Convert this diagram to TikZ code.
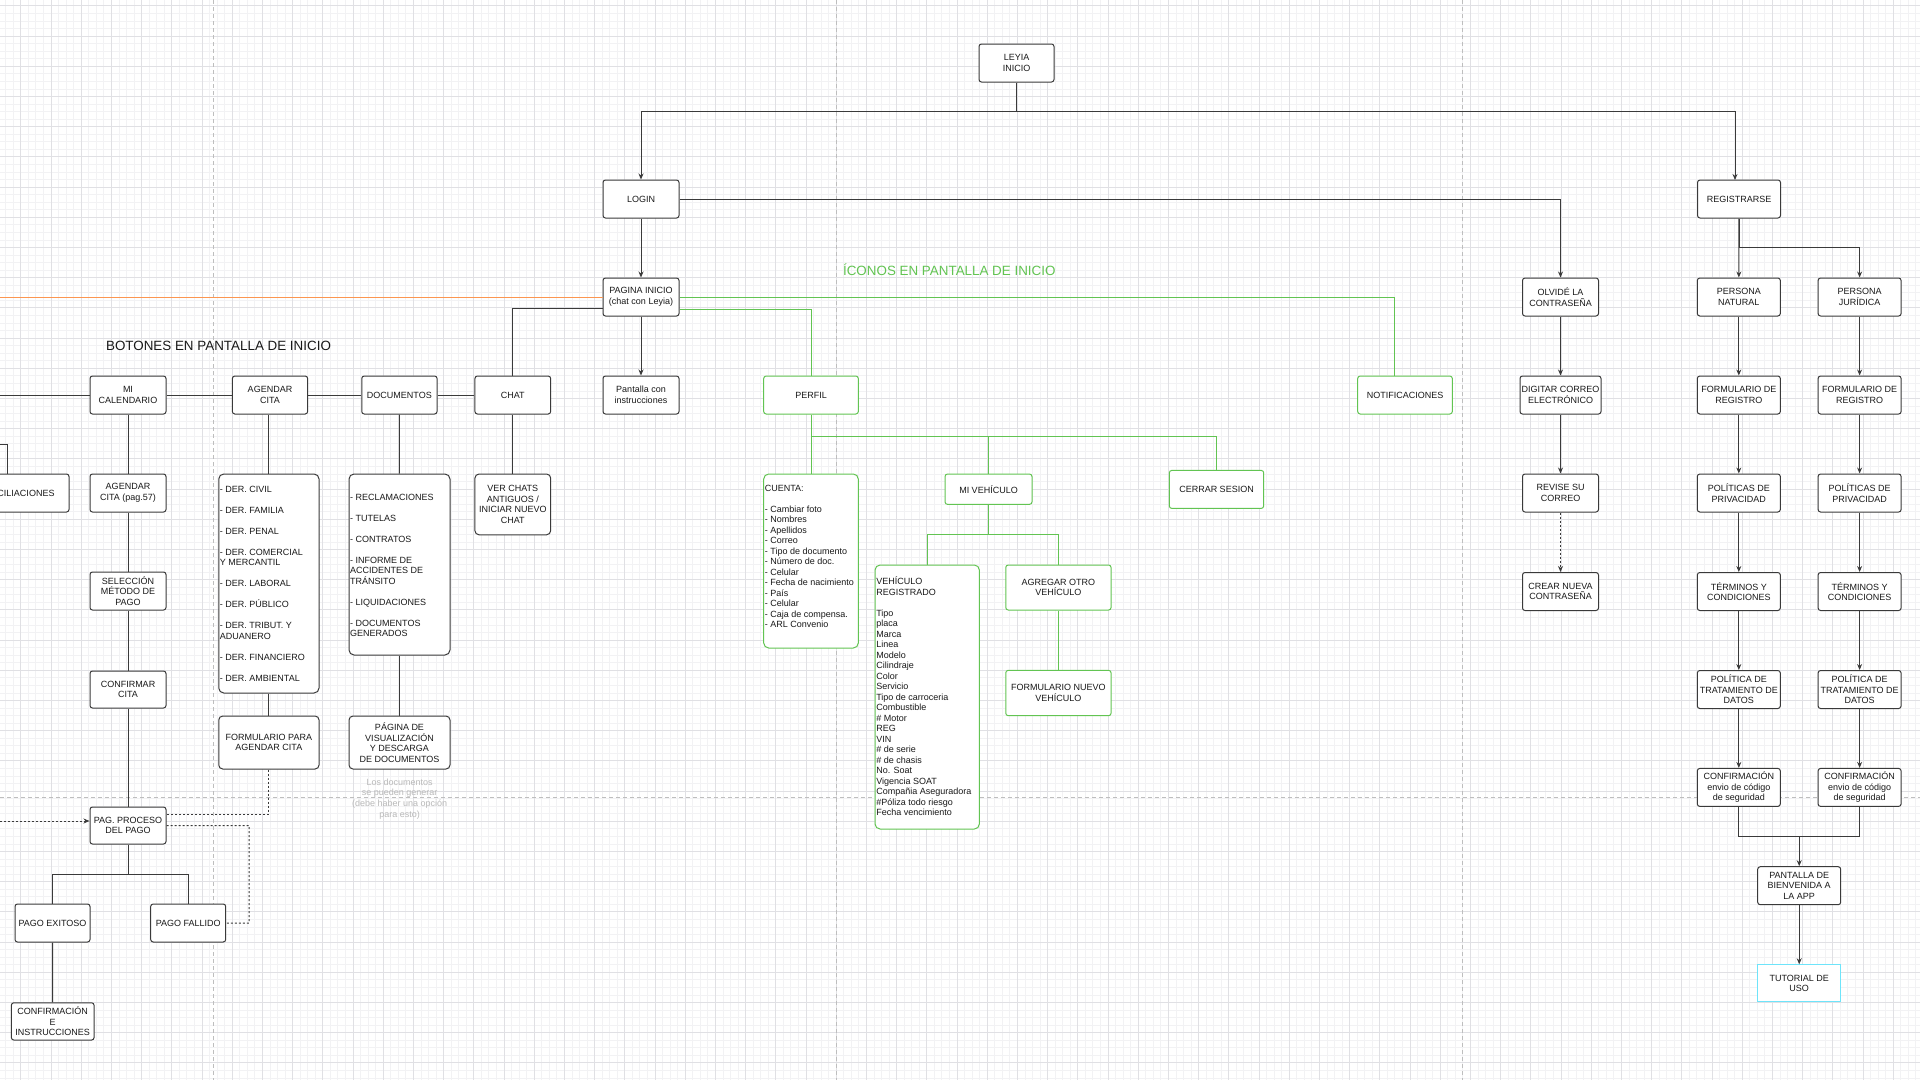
\documentclass[tikz,border=0pt]{standalone}
\usepackage{fontspec}
\setmainfont{Liberation Sans}
\usetikzlibrary{arrows.meta}
\definecolor{lc}{RGB}{58,58,58}
\definecolor{grn}{RGB}{98,196,82}
\definecolor{txt}{RGB}{25,25,25}
\definecolor{cyn}{RGB}{110,228,250}
\definecolor{org}{RGB}{252,150,80}
\definecolor{gmin}{RGB}{242,242,244}
\definecolor{gmaj}{RGB}{224,224,228}
\definecolor{pg}{RGB}{190,190,190}
\definecolor{notec}{RGB}{185,185,185}
\begin{document}
\begin{tikzpicture}[x=1pt,y=-1pt,
  every node/.style={text=txt},
  sz/.style 2 args={minimum width=#1pt,minimum height=#2pt},
  bx/.style={draw=lc,fill=white,line width=1pt,rounded corners=2.5pt,inner sep=0.5pt,align=center,font=\fontsize{9}{10.5}\selectfont},
  gbx/.style={bx,draw=grn},
  lbx/.style={bx,rounded corners=5pt},
  glbx/.style={lbx,draw=grn},
  ltx/.style={inner sep=0pt,align=left,anchor=north west,font=\fontsize{9}{10.5}\selectfont},
  cn/.style={draw=lc,line width=1pt},
  gcn/.style={draw=grn,line width=1pt},
  dcn/.style={draw=lc,line width=1pt,dash pattern=on 2pt off 2pt},
  arr/.style={-{Stealth[length=6pt,width=5pt]}},
  pgl/.style={draw=pg,line width=1pt,dash pattern=on 4pt off 3pt},
  ttl/.style={font=\fontsize{13.4}{16}\selectfont},
]
\useasboundingbox (0,0) rectangle (1920,1080);
\clip (0,0) rectangle (1920,1080);
\fill[white] (0,0) rectangle (1920,1080);
% grid
\foreach \i in {0,...,254} \draw[gmin,line width=0.7pt] ({5.6+7.55*\i},0) -- ({5.6+7.55*\i},1080);
\foreach \i in {0,...,143} \draw[gmin,line width=0.7pt] (0,{5.8+7.55*\i}) -- (1920,{5.8+7.55*\i});
\foreach \i in {0,...,63} \draw[gmaj,line width=0.8pt] ({20.7+30.2*\i},0) -- ({20.7+30.2*\i},1080);
\foreach \i in {0,...,35} \draw[gmaj,line width=0.8pt] (0,{5.8+30.2*\i}) -- (1920,{5.8+30.2*\i});
% page breaks
\draw[pgl] (213,0) -- (213,1080);
\draw[pgl] (836,0) -- (836,1080);
\draw[pgl] (1462,0) -- (1462,1080);
\draw[pgl] (0,797.5) -- (1920,797.5);

% titles
\node[ttl] (botones) at (218.5,345.7) {BOTONES EN PANTALLA DE INICIO};
\node[ttl,text=grn] (iconos) at (949.3,270) {ÍCONOS EN PANTALLA DE INICIO};

% top
\node[bx,sz={75}{38}] (leyia) at (1016.5,63) {LEYIA\\INICIO};
\node[bx,sz={76}{38}] (login) at (641,199) {LOGIN};
\node[bx,sz={83}{38}] (regis) at (1739,199) {REGISTRARSE};
\node[bx,sz={76}{38}] (pagina) at (641,297) {PAGINA INICIO\\(chat con Leyia)};
\node[bx,sz={76}{38}] (pantalla) at (641,395) {Pantalla con\\instrucciones};

% forgot password
\node[bx,sz={76}{38}] (olvide) at (1560.5,297) {OLVIDÉ LA\\CONTRASEÑA};
\node[bx,sz={81}{38}] (digitar) at (1560.5,395) {DIGITAR CORREO\\ELECTRÓNICO};
\node[bx,sz={76}{38}] (revise) at (1560.5,493) {REVISE SU\\CORREO};
\node[bx,sz={76}{38}] (crear) at (1560.5,591.5) {CREAR NUEVA\\CONTRASEÑA};

% register
\node[bx,sz={83}{38}] (natural) at (1738.8,297) {PERSONA\\NATURAL};
\node[bx,sz={83}{38}] (juridica) at (1859.6,297) {PERSONA\\JURÍDICA};
\node[bx,sz={83}{38}] (formN) at (1738.8,395) {FORMULARIO DE\\REGISTRO};
\node[bx,sz={83}{38}] (formJ) at (1859.6,395) {FORMULARIO DE\\REGISTRO};
\node[bx,sz={83}{38}] (polN) at (1738.8,493) {POLÍTICAS DE\\PRIVACIDAD};
\node[bx,sz={83}{38}] (polJ) at (1859.6,493) {POLÍTICAS DE\\PRIVACIDAD};
\node[bx,sz={83}{38}] (termN) at (1738.8,591.5) {TÉRMINOS Y\\CONDICIONES};
\node[bx,sz={83}{38}] (termJ) at (1859.6,591.5) {TÉRMINOS Y\\CONDICIONES};
\node[bx,sz={83}{38}] (tratN) at (1738.8,689.5) {POLÍTICA DE\\TRATAMIENTO DE\\DATOS};
\node[bx,sz={83}{38}] (tratJ) at (1859.6,689.5) {POLÍTICA DE\\TRATAMIENTO DE\\DATOS};
\node[bx,sz={83}{38}] (confN) at (1738.8,787.4) {CONFIRMACIÓN\\envio de código\\de seguridad};
\node[bx,sz={83}{38}] (confJ) at (1859.6,787.4) {CONFIRMACIÓN\\envio de código\\de seguridad};
\node[bx,sz={83}{38}] (bienv) at (1799.2,885.7) {PANTALLA DE\\BIENVENIDA A\\LA APP};
\node[bx,draw=cyn,rounded corners=0pt,sz={83}{37}] (tutorial) at (1799.2,983.3) {TUTORIAL DE\\USO};

% left buttons
\node[bx,sz={76}{38}] (mical) at (128,395) {MI\\CALENDARIO};
\node[bx,sz={75.3}{38}] (agendar) at (270,395) {AGENDAR\\CITA};
\node[bx,sz={75.3}{38}] (documentos) at (399.4,395) {DOCUMENTOS};
\node[bx,sz={75.7}{38}] (chat) at (512.8,395) {CHAT};
\node[bx,sz={106}{38}] (concil) at (16,493) {CONCILIACIONES};
\node[bx,sz={76}{38}] (ag57) at (128,493) {AGENDAR\\CITA (pag.57)};
\node[bx,sz={76}{38}] (selec) at (128,591) {SELECCIÓN\\MÉTODO DE\\PAGO};
\node[bx,sz={76}{37}] (confirmar) at (128,689.5) {CONFIRMAR\\CITA};
\node[bx,sz={76}{37}] (pagproc) at (128,825.5) {PAG. PROCESO\\DEL PAGO};
\node[bx,sz={75}{38}] (exitoso) at (52.5,923) {PAGO EXITOSO};
\node[bx,sz={75}{38}] (fallido) at (188.2,923) {PAGO FALLIDO};
\node[bx,sz={82.7}{37.3}] (confinst) at (52.7,1021.4) {CONFIRMACIÓN\\E\\INSTRUCCIONES};
\node[lbx,sz={100.3}{219}] (derlist) at (268.9,583.5) {};
\node[ltx] (derT) at ([xshift=1.5pt,yshift=-12.5pt]derlist.north west) {- DER. CIVIL\\[10.5pt]- DER. FAMILIA\\[10.5pt]- DER. PENAL\\[10.5pt]- DER. COMERCIAL\\Y MERCANTIL\\[10.5pt]- DER. LABORAL\\[10.5pt]- DER. PÚBLICO\\[10.5pt]- DER. TRIBUT. Y\\ADUANERO\\[10.5pt]- DER. FINANCIERO\\[10.5pt]- DER. AMBIENTAL};
\node[lbx,sz={101}{181}] (doclist) at (399.5,564.5) {};
\node[ltx] (docT) at ([xshift=1.5pt,yshift=-20.5pt]doclist.north west) {- RECLAMACIONES\\[10.5pt]- TUTELAS\\[10.5pt]- CONTRATOS\\[10.5pt]- INFORME DE\\ACCIDENTES DE\\TRÁNSITO\\[10.5pt]- LIQUIDACIONES\\[10.5pt]- DOCUMENTOS\\GENERADOS};
\node[lbx,rounded corners=4pt,sz={100.3}{53}] (formag) at (268.9,742.5) {FORMULARIO PARA\\AGENDAR CITA};
\node[lbx,rounded corners=4pt,sz={101}{53}] (pagvis) at (399.5,742.5) {PÁGINA DE\\VISUALIZACIÓN\\Y DESCARGA\\DE DOCUMENTOS};
\node[align=center,text=notec,font=\fontsize{9}{10.7}\selectfont] (nota) at (399.7,799) {Los documentos\\se pueden generar\\(debe haber una opción\\para esto)};
\node[lbx,rounded corners=4pt,sz={75.7}{60.7}] (verchats) at (512.8,504.4) {VER CHATS\\ANTIGUOS /\\INICIAR NUEVO\\CHAT};

% green
\node[gbx,sz={94.6}{38}] (perfil) at (811,395) {PERFIL};
\node[glbx,sz={94.6}{174}] (cuenta) at (811,561) {};
\node[ltx] (cuentaT) at ([xshift=1.5pt,yshift=-11.5pt]cuenta.north west) {CUENTA:\\[10.5pt]- Cambiar foto\\- Nombres\\- Apellidos\\- Correo\\- Tipo de documento\\- Número de doc.\\- Celular\\- Fecha de nacimiento\\- País\\- Celular\\- Caja de compensa.\\- ARL Convenio};
\node[gbx,sz={87}{30.3}] (miveh) at (988.5,489.2) {MI VEHÍCULO};
\node[gbx,sz={94.4}{38}] (cerrar) at (1216.5,489.4) {CERRAR SESION};
\node[gbx,sz={94.6}{38}] (notif) at (1405,395) {NOTIFICACIONES};
\node[glbx,sz={104.3}{264}] (vehreg) at (927.2,697) {};
\node[ltx] (vehT) at ([xshift=1.5pt,yshift=-12pt]vehreg.north west) {VEHÍCULO\\REGISTRADO\\[10.5pt]Tipo\\placa\\Marca\\Linea\\Modelo\\Cilindraje\\Color\\Servicio\\Tipo de carroceria\\Combustible\\\# Motor\\REG\\VIN\\\# de serie\\\# de chasis\\No. Soat\\Vigencia SOAT\\Compañia Aseguradora\\\#Póliza todo riesgo\\Fecha vencimiento};
\node[gbx,sz={105.3}{45}] (agregar) at (1058.4,587.5) {AGREGAR OTRO\\VEHÍCULO};
\node[gbx,sz={105.3}{45.4}] (formnuevo) at (1058.4,693) {FORMULARIO NUEVO\\VEHÍCULO};

% coordinates
\coordinate (j1) at (1016.5,111.7);
\coordinate (j2) at (1739,247.7);
\coordinate (j3) at (1799.2,836.7);
\coordinate (j4) at (811,436.7);
\coordinate (j5) at (988.5,534.7);
\coordinate (j6) at (128,874);
\coordinate (n1) at (1394.7,297);
\coordinate (o0) at (0,297);
\coordinate (e0) at (0,395);
\coordinate (c0) at (0,444);
\coordinate (c1) at (7,474);
\coordinate (e1) at (0,821);
\coordinate (d1) at (249,825.7);
\coordinate (r1) at (1735,180);

% black connectors
\draw[cn] (leyia.south) -- (j1);
\draw[cn,arr] (j1) -| (login.north);
\draw[cn,arr] (j1) -| (r1);
\draw[cn,arr] (login) -- (pagina);
\draw[cn,arr] (pagina) -- (pantalla);
\draw[cn,arr] (login.east) -| (olvide.north);
\draw[cn,arr] (olvide) -- (digitar);
\draw[cn,arr] (digitar) -- (revise);
\draw[dcn,arr] (revise) -- (crear);
\draw[cn,arr] (regis) -- (natural);
\draw[cn] (regis.south) -- (j2);
\draw[cn,arr] (j2) -| (juridica.north);
\draw[cn,arr] (natural) -- (formN);
\draw[cn,arr] (formN) -- (polN);
\draw[cn,arr] (polN) -- (termN);
\draw[cn,arr] (termN) -- (tratN);
\draw[cn,arr] (tratN) -- (confN);
\draw[cn,arr] (juridica) -- (formJ);
\draw[cn,arr] (formJ) -- (polJ);
\draw[cn,arr] (polJ) -- (termJ);
\draw[cn,arr] (termJ) -- (tratJ);
\draw[cn,arr] (tratJ) -- (confJ);
\draw[cn] (confN.south) |- (j3);
\draw[cn] (confJ.south) |- (j3);
\draw[cn,arr] (j3) -- (bienv.north);
\draw[cn,arr] (bienv) -- (tutorial);
\draw[cn] ([yshift=-11pt]pagina.west) -| (chat.north);
\draw[draw=org,line width=1pt] (o0) -- (pagina.west);
\draw[cn] (e0) -- (mical.west);
\draw[cn] (mical) -- (agendar);
\draw[cn] (agendar) -- (documentos);
\draw[cn] (documentos) -- (chat);
\draw[cn] (c0) -| (c1);
\draw[cn] (mical) -- (ag57);
\draw[cn] (ag57) -- (selec);
\draw[cn] (selec) -- (confirmar);
\draw[cn] (confirmar) -- (pagproc);
\draw[cn] (derlist.north) -- (derlist.north |- agendar.south);
\draw[cn] (derlist) -- (formag);
\draw[cn] (documentos) -- (doclist);
\draw[cn] (doclist) -- (pagvis);
\draw[cn] (chat) -- (verchats);
\draw[cn] (pagproc.south) -- (j6);
\draw[cn] (j6) -| (exitoso.north);
\draw[cn] (j6) -| (fallido.north);
\draw[cn] (exitoso) -- (confinst);
\draw[dcn,arr] (e1) -- (e1 -| pagproc.west);
\draw[dcn] (formag.south) |- ([yshift=11.5pt]pagproc.east);
\draw[dcn] (pagproc.east) -- (d1) |- (fallido.east);

% green connectors
\draw[gcn] (pagina.east) -- (n1) -- (n1 |- notif.north);
\draw[gcn] ([yshift=-12pt]pagina.east) -| (perfil.north);
\draw[gcn] (perfil) -- (cuenta);
\draw[gcn] (j4) -| (cerrar.north);
\draw[gcn] (j4 -| miveh.north) -- (miveh.north);
\draw[gcn] (miveh.south) -- (j5);
\draw[gcn] (j5) -| (vehreg.north);
\draw[gcn] (j5) -| (agregar.north);
\draw[gcn] (agregar) -- (formnuevo);
\end{tikzpicture}
\end{document}
